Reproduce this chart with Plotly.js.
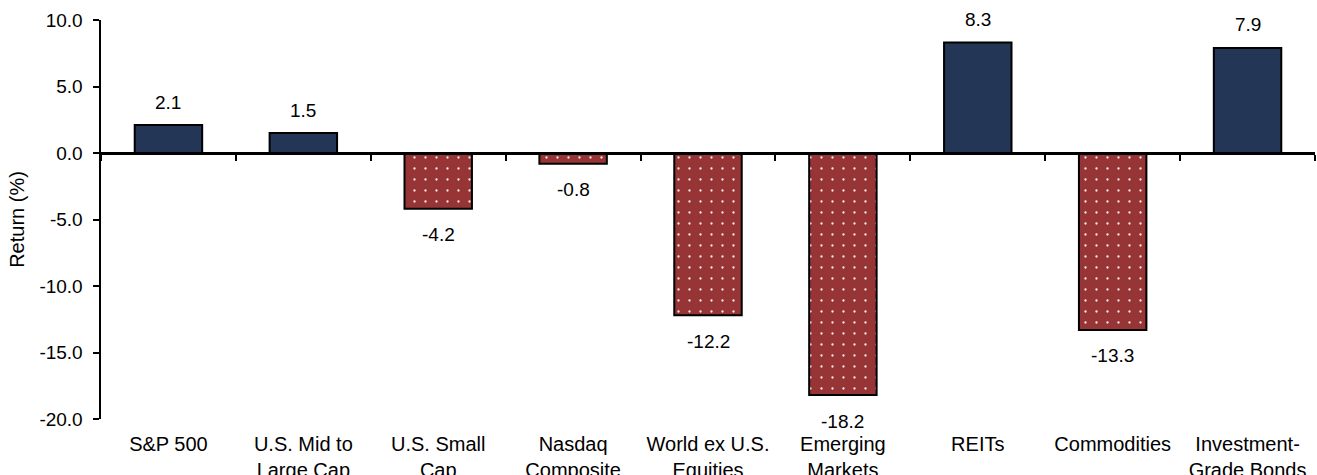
<!DOCTYPE html>
<html>
<head>
<meta charset="utf-8">
<script src="https://cdn.plot.ly/plotly-3.0.1.min.js"></script>
<style>html,body{margin:0;padding:0;background:#fff;}#chart{width:1317px;height:475px;}</style>
</head>
<body>
<div id="chart"></div>
<script>
var categories = ["S&amp;P 500", "U.S. Mid to<br>Large Cap", "U.S. Small<br>Cap", "Nasdaq<br>Composite", "World ex U.S.<br>Equities", "Emerging<br>Markets", "REITs", "Commodities", "Investment-<br>Grade Bonds"];
var returns = [2.1, 1.5, -4.2, -0.8, -12.2, -18.2, 8.3, -13.3, 7.9];
var yTicks = [-20, -15, -10, -5, 0, 5, 10];
var yTickText = yTicks.map(function (t) { return t.toFixed(1); });

var NAVY = "#243655";
var RED = "#973436";
var FONT = "Liberation Sans, Arial, sans-serif";

var posY = returns.map(function (v) { return v >= 0 ? v : null; });
var negY = returns.map(function (v) { return v < 0 ? v : null; });

var traces = [
  {
    type: "bar", x: categories, y: posY,
    marker: { color: NAVY, line: { color: "#000", width: 2 } },
    hoverinfo: "skip", showlegend: false
  },
  {
    type: "bar", x: categories, y: negY,
    marker: {
      color: RED, line: { color: "#000", width: 2 },
      pattern: { shape: ".", fgcolor: "#ffffff", bgcolor: RED, size: 11, solidity: 0.035, fgopacity: 0.9 }
    },
    hoverinfo: "skip", showlegend: false
  },
  {
    type: "scatter", x: categories, y: returns.map(function () { return 0; }),
    xaxis: "x2", mode: "none", hoverinfo: "skip", showlegend: false
  }
];

var annotations = returns.map(function (v, i) {
  return {
    x: categories[i], y: v, xref: "x", yref: "y",
    text: v.toFixed(1), showarrow: false,
    yshift: v >= 0 ? 23 : -26,
    font: { family: FONT, size: 19, color: "#000" }
  };
});

var layout = {
  width: 1317, height: 475,
  margin: { l: 101, r: 2, t: 20, b: 56 },
  paper_bgcolor: "#fff", plot_bgcolor: "#fff",
  font: { family: FONT, color: "#000", size: 18 },
  barmode: "overlay",
  bargap: 0.5,
  xaxis: {
    type: "category",
    showline: false, showgrid: false, zeroline: false,
    ticks: "", ticklabelstandoff: 11,
    tickfont: { family: FONT, size: 20, color: "#000" }
  },
  xaxis2: {
    type: "category", overlaying: "x", matches: "x",
    anchor: "free", position: 2 / 3, side: "bottom",
    showline: true, linecolor: "#000", linewidth: 2.5,
    ticks: "outside", tickson: "boundaries", ticklen: 6, tickwidth: 2, tickcolor: "#000",
    showticklabels: false, showgrid: false, zeroline: false
  },
  yaxis: {
    range: [-20, 10], tickvals: yTicks, ticktext: yTickText,
    showline: true, linecolor: "#000", linewidth: 2.5,
    ticks: "outside", ticklen: 6, tickwidth: 2, tickcolor: "#000",
    ticklabelstandoff: 6,
    showgrid: false, zeroline: false,
    tickfont: { family: FONT, size: 19, color: "#000" },
    title: { text: "Return (%)", font: { family: FONT, size: 20, color: "#000" }, standoff: 10 }
  },
  annotations: annotations
};

Plotly.newPlot("chart", traces, layout, { displayModeBar: false, staticPlot: true });
</script>
</body>
</html>
